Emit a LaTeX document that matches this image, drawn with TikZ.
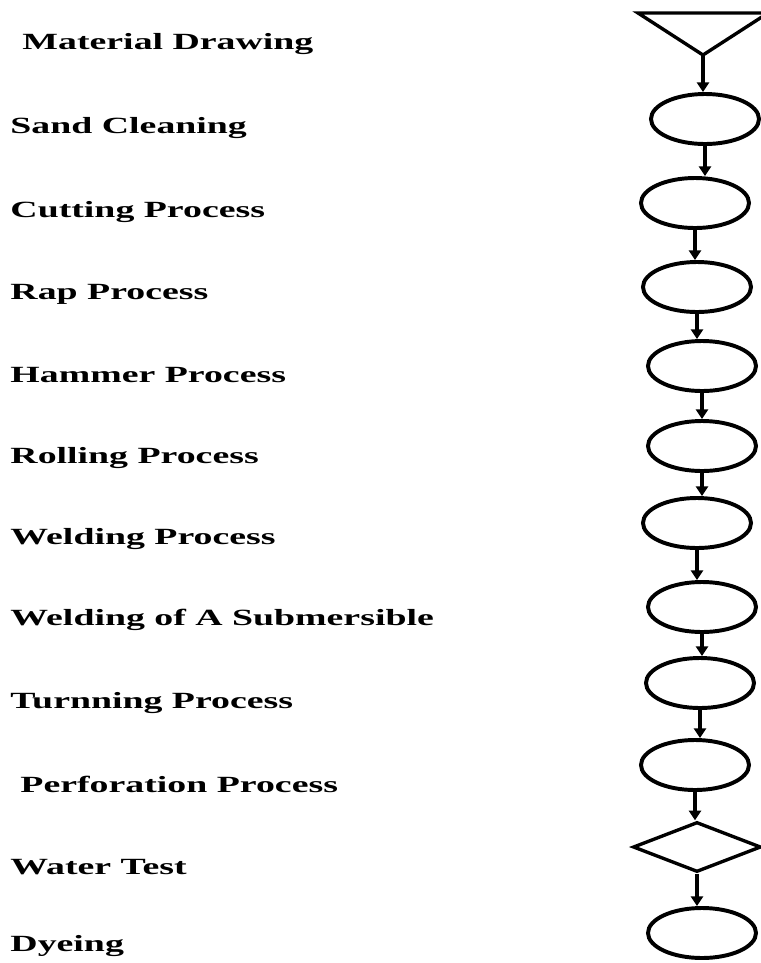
\documentclass[tikz,border=0pt]{standalone}
\usepackage{fontspec}
\setmainfont{Liberation Serif}
\usepackage{tikz}
\usetikzlibrary{shapes.geometric, arrows.meta, positioning}

\begin{document}
\begin{tikzpicture}[
        x=0.025cm, y=-0.025cm,
        every node/.style={font=\fontsize{16.5}{19}\selectfont\bfseries},
        label/.style={anchor=west, xscale=1.63, inner sep=0pt},
        oval/.style={ellipse, draw, line width=2.8pt, minimum width=2.7cm,
                     minimum height=1.25cm, inner sep=0pt},
        check/.style={diamond, draw, line width=2.4pt, aspect=2.5,
                      minimum width=3.2cm, minimum height=1.25cm, inner sep=0pt},
        flow/.style={-{Triangle[length=2.4mm, width=3mm]}, line width=2.2pt}
    ]
        \useasboundingbox (0,0) rectangle (761,963);

        % step names
        \node[label] (tmaterial) at (22,44) {Material Drawing};
        \node[label] (tsand) at (10,128) {Sand Cleaning};
        \node[label] (tcutting) at (10,212) {Cutting Process};
        \node[label] (trap) at (10,294) {Rap Process};
        \node[label] (thammer) at (10,375) {Hammer Process};
        \node[label] (trolling) at (10,458) {Rolling Process};
        \node[label] (twelding) at (10,539) {Welding Process};
        \node[label] (tsubmersible) at (10,620) {Welding of A Submersible};
        \node[label] (tturning) at (10,703) {Turnning Process};
        \node[label] (tperforation) at (20,784) {Perforation Process};
        \node[label] (twater) at (10,867) {Water Test};
        \node[label] (tdyeing) at (10,946) {Dyeing};

        % symbols
        \draw[line width=2.4pt, line join=miter] (638,13) -- (768,13) -- (703,55) -- cycle;
        \coordinate (apex) at (703,55);
        \node[oval] (sand) at (705,119) {};
        \node[oval] (cutting) at (695,203) {};
        \node[oval] (rap) at (697,287) {};
        \node[oval] (hammer) at (702,366) {};
        \node[oval] (rolling) at (702,446) {};
        \node[oval] (welding) at (697,523) {};
        \node[oval] (submersible) at (702,607) {};
        \node[oval] (turning) at (700,683) {};
        \node[oval] (perforation) at (695,765) {};
        \node[check] (water) at (697,847) {};
        \node[oval] (dyeing) at (702,933) {};

        \draw[flow] (apex) -- (apex |- sand.north);
        \draw[flow] (sand.south) -- (sand.south |- cutting.north);
        \draw[flow] (cutting.south) -- (cutting.south |- rap.north);
        \draw[flow] (rap.south) -- (rap.south |- hammer.north);
        \draw[flow] (hammer.south) -- (hammer.south |- rolling.north);
        \draw[flow] (rolling.south) -- (rolling.south |- welding.north);
        \draw[flow] (welding.south) -- (welding.south |- submersible.north);
        \draw[flow] (submersible.south) -- (submersible.south |- turning.north);
        \draw[flow] (turning.south) -- (turning.south |- perforation.north);
        \draw[flow] (perforation.south) -- (perforation.south |- water.north);
        \draw[flow] (water.south) -- (water.south |- dyeing.north);
    \end{tikzpicture}
\end{document}
